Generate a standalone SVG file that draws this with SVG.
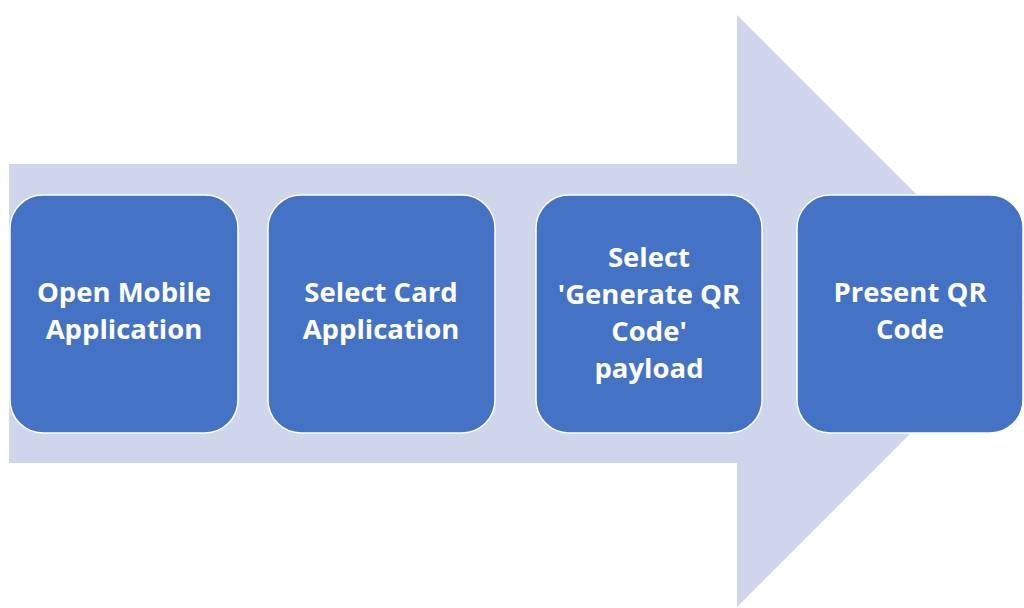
<svg xmlns="http://www.w3.org/2000/svg" width="1024" height="608" viewBox="0 0 1024 608">
<style>
.box{fill:#4472C4;stroke:#ffffff;stroke-width:1.5}
.lbl{fill:#ffffff;font-family:"Open Sans","Liberation Sans",sans-serif;font-weight:700;font-size:27.5px;text-anchor:middle}
</style>
<rect width="1024" height="608" fill="#ffffff"/>
<g id="connectors">
<polygon points="9,164 737,164 737,15 1033,311 737,607 737,463 9,463" fill="#CFD5EA"/>
</g>
<g id="n1">
<rect class="box" x="10" y="195" width="228" height="238" rx="33"/>
<text class="lbl" x="124" y="302">Open Mobile</text>
<text class="lbl" x="124" y="339">Application</text>
</g>
<g id="n2">
<rect class="box" x="268" y="195" width="227" height="238" rx="33"/>
<text class="lbl" x="381" y="302">Select Card</text>
<text class="lbl" x="381" y="339">Application</text>
</g>
<g id="n3">
<rect class="box" x="536" y="195" width="226" height="238" rx="33"/>
<text class="lbl" x="649" y="267">Select</text>
<text class="lbl" x="649" y="304">'Generate QR</text>
<text class="lbl" x="649" y="341">Code'</text>
<text class="lbl" x="649" y="378">payload</text>
</g>
<g id="n4">
<rect class="box" x="797" y="195" width="226" height="238" rx="33"/>
<text class="lbl" x="910" y="302">Present QR</text>
<text class="lbl" x="910" y="339">Code</text>
</g>
</svg>
